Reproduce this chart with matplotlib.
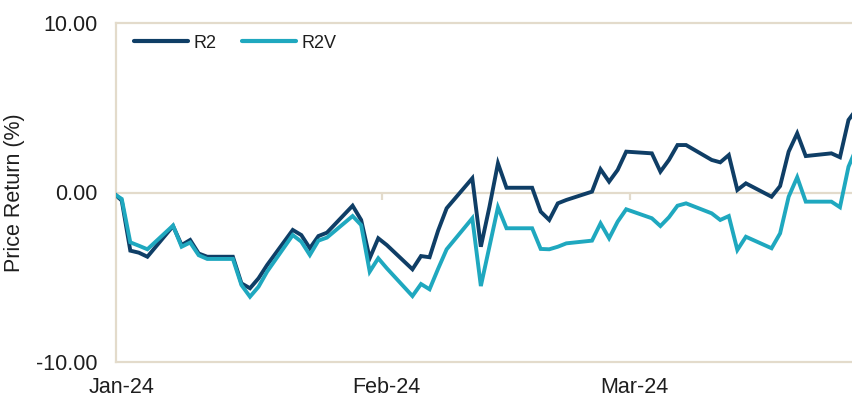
import matplotlib
matplotlib.use("Agg")
import matplotlib.pyplot as plt
import matplotlib.dates as mdates
import pandas as pd
import numpy as np

# ---------------- data ----------------
dates = pd.bdate_range("2024-01-01", "2024-03-28")  # weekdays (holidays carried forward)

r2 = [
    # Jan
    0.0, -0.48, -3.43, -3.55, -3.79, -1.98, -3.10, -2.80, -3.60, -3.79, -3.79,
    -5.36, -5.65, -5.06, -4.28, -2.21, -2.51, -3.29, -2.57, -2.37, -0.78, -1.62, -3.88,
    # Feb
    -2.70, -3.10, -4.53, -3.75, -3.82, -2.25, -0.93, 0.84, -3.20, -0.86, 1.72, 0.28,
    0.28, -1.13, -1.62, -0.64, -0.44, 0.05, 1.37, 0.64, 1.33,
    # Mar
    2.41, 2.31, 1.23, 1.92, 2.80, 2.80, 1.92, 1.78, 2.21, 0.15, 0.54, -0.25, 0.38,
    2.41, 3.49, 2.15, 2.31, 2.08, 4.28, 4.95,
]
r2v = [
    # Jan
    -0.05, -0.38, -2.94, -3.14, -3.35, -1.95, -3.20, -2.95, -3.70, -3.92, -3.92,
    -5.46, -6.15, -5.56, -4.67, -2.51, -2.90, -3.69, -2.84, -2.66, -1.39, -1.92, -4.67,
    # Feb
    -3.88, -4.47, -6.11, -5.40, -5.71, -4.50, -3.35, -1.52, -5.52, -3.20, -0.87, -2.11,
    -2.11, -3.33, -3.35, -3.20, -3.00, -2.84, -1.82, -2.70, -1.72,
    # Mar
    -0.99, -1.52, -1.98, -1.46, -0.78, -0.64, -1.23, -1.62, -1.39, -3.39, -2.61, -3.29,
    -2.41, -0.25, 0.90, -0.54, -0.54, -0.87, 1.52, 2.70,
]
series_names = ["R2", "R2V"]
month_ticks = ["2024-01-01", "2024-02-01", "2024-03-01"]
month_labels = ["Jan-24", "Feb-24", "Mar-24"]
y_ticks = [-10, 0, 10]
y_labels = ["-10.00", "0.00", "10.00"]

# ---------------- style ----------------
C_R2 = "#0f3e66"
C_R2V = "#1fa8bf"
BEIGE = "#e3dbcb"
TXT = "#1e1e1e"
FONT = ["Liberation Sans", "DejaVu Sans"]
plt.rcParams["font.family"] = FONT

W, H = 852, 400
fig = plt.figure(figsize=(W / 100, H / 100), dpi=100)
fig.patch.set_facecolor("white")

px_per_day = 8.55
first_px = 113.2
left_px, right_px = 116, 872
top_px, bot_px = 23, 362
ax = fig.add_axes([left_px / W, 1 - bot_px / H, (right_px - left_px) / W, (bot_px - top_px) / H])

d0 = mdates.date2num(dates[0])
ax.set_xlim(d0 + (left_px - first_px) / px_per_day, d0 + (right_px - first_px) / px_per_day)
ax.set_ylim(-10, 10)

x = mdates.date2num(dates)
ax.axhline(0, color=BEIGE, lw=1.6, zorder=1)
ax.plot(x, r2, color=C_R2, lw=2.8, solid_joinstyle="miter", zorder=3, label=series_names[0])
ax.plot(x, r2v, color=C_R2V, lw=2.8, solid_joinstyle="miter", zorder=4, label=series_names[1])

# month ticks sitting on the zero line
mt = mdates.date2num(pd.to_datetime(month_ticks))
ax.vlines(mt + 0.46, -0.42, 0, color=BEIGE, lw=1.6, zorder=1)

ax.set_xticks(mt + 1.0)
ax.set_xticklabels(month_labels)
ax.set_yticks(y_ticks)
ax.set_yticklabels(y_labels)
ax.tick_params(axis="both", length=0, labelsize=15.5, colors=TXT)
ax.tick_params(axis="x", pad=11)
ax.tick_params(axis="y", pad=13)

ax.set_ylabel("Price Return (%)", fontsize=15.5, color=TXT, labelpad=8)

for s in ["left", "top", "bottom"]:
    ax.spines[s].set_color(BEIGE)
    ax.spines[s].set_linewidth(1.6)
ax.spines["right"].set_visible(False)

leg = ax.legend(loc="center left", bbox_to_anchor=(134 / W, 1 - 43 / H),
                bbox_transform=fig.transFigure, frameon=False, ncol=2,
                fontsize=13, handlelength=3.0, handletextpad=0.3,
                columnspacing=1.4, borderpad=0, borderaxespad=0)
for line in leg.get_lines():
    line.set_linewidth(3.0)
    line.set_solid_capstyle("round")
for t in leg.get_texts():
    t.set_color(TXT)

fig.savefig("out.png", dpi=100)
